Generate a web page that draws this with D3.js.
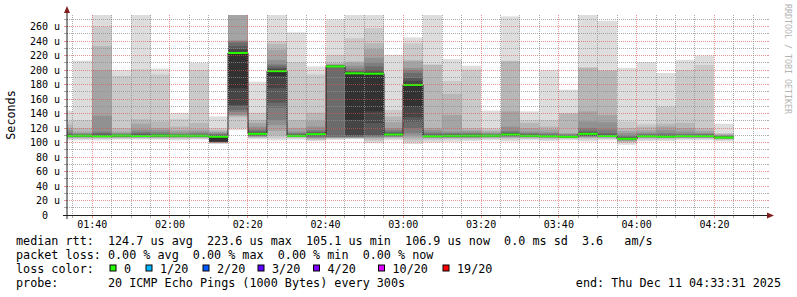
<!DOCTYPE html>
<html lang="en">
<head>
<meta charset="utf-8">
<script src="https://d3js.org/d3.v7.min.js"></script>
<title>SmokePing detail</title>
<style>
  body { margin: 0; background: #fff; }
  svg { display: block; font-family: "DejaVu Sans Mono", monospace; }
  text { white-space: pre; }
</style>
</head>
<body>
<script>
// time window: 3 hours ending at the "end:" stamp
var day = "2025-12-11";
var endClock = "04:33:31";

// end time of every 5 minute step
var barEnds = ["01:35", "01:40", "01:45", "01:50", "01:55", "02:00", "02:05", "02:10", "02:15",
  "02:20", "02:25", "02:30", "02:35", "02:40", "02:45", "02:50", "02:55", "03:00", "03:05",
  "03:10", "03:15", "03:20", "03:25", "03:30", "03:35", "03:40", "03:45", "03:50", "03:55",
  "04:00", "04:05", "04:10", "04:15", "04:20", "04:25"];

// median rtt per step (us)
var medians = [109.2, 109.4, 108.8, 109.6, 109, 109.6, 109.5, 109.4, 108, 223.6, 112, 198.5,
  109.3, 111.6, 205, 195.5, 195, 111, 179.5, 108.8, 109.3, 109.5, 109.5, 111, 109.3, 108.8,
  108, 112, 109, 105.1, 108.8, 108.2, 108.9, 108.9, 106.9];

// lost pings per step
var lossCount = [0, 0, 0, 0, 0, 0, 0, 0, 0, 0, 0, 0, 0, 0, 0, 0, 0, 0, 0, 0, 0, 0, 0, 0, 0,
  0, 0, 0, 0, 0, 0, 0, 0, 0, 0];

// the 20 sorted ping times per step (us)
var pings = [
  [103, 105, 106, 107, 107.5, 108, 108.3, 108.6, 108.8, 109, 109.2, 110, 111, 112, 114, 117, 120, 125, 130, 144],
  [103, 105, 106, 107, 107.5, 108, 108.5, 109, 109, 109.2, 109.4, 110, 110.5, 111, 112, 113, 115, 120, 131, 213],
  [103, 105, 106, 107, 107.5, 108, 108.3, 108.5, 108.6, 108.7, 108.8, 109.5, 111, 113, 115, 137, 200, 233, 260, 290],
  [104, 105.5, 106, 107, 107.5, 108, 108.5, 109, 109, 109.3, 109.6, 110, 110.5, 111, 112, 113, 115, 120, 192, 200],
  [104, 105.5, 106, 107, 107.5, 108, 108.3, 108.5, 108.7, 108.9, 109, 110, 111, 113, 115, 118, 126, 132, 201, 290],
  [104, 105.5, 106, 107, 107.5, 108, 108.5, 109, 109.2, 109.4, 109.6, 110, 111, 112, 114, 117, 120, 129, 194, 202],
  [103, 105, 106, 107, 107.5, 108, 108.5, 109, 109.2, 109.3, 109.5, 110, 110.5, 111, 112, 114, 117, 122, 132, 141],
  [104, 105.5, 106, 107, 107.5, 108, 108.5, 108.8, 109, 109.2, 109.4, 110, 110.5, 111, 113, 115, 118, 127, 200, 210],
  [98, 99, 99.5, 100, 100.3, 100.5, 100.7, 101, 101.2, 101.5, 108, 109, 110, 111, 112, 113.5, 115, 117, 120, 136],
  [117, 120, 135, 137, 138, 142, 145, 150, 152, 175, 223.6, 229, 233, 238, 240, 241, 285, 295, 310, 330],
  [104.5, 106, 107, 108, 108.5, 109, 109.5, 110, 110.5, 111, 112, 113, 114, 116, 118, 122, 127, 131, 141, 184],
  [103, 106, 110, 116, 124, 131, 148, 155, 175, 192, 198.5, 201, 203, 206, 208, 214, 228, 236, 240, 290],
  [104, 106, 107, 107.5, 108, 108.5, 108.8, 109, 109, 109.1, 109.3, 110, 111, 112, 113, 115, 120, 131, 211, 252],
  [102, 103.5, 104.5, 105.5, 106.5, 107.5, 108.5, 109.5, 110.5, 111, 111.6, 112.5, 113.5, 115, 117, 122, 130, 141, 194, 205],
  [103.7, 105, 106, 106.5, 107, 107.5, 108, 204, 204.5, 204.7, 205, 205.5, 206, 206.5, 207, 207.5, 208, 210, 221, 270],
  [104.7, 105.5, 106, 106.5, 107, 107.5, 108, 109, 110.5, 131, 195.5, 197, 198, 199, 202, 206, 210, 212, 244, 290],
  [99, 102, 104, 106, 107, 108, 109, 110.5, 127, 143, 195, 197, 200, 205, 210, 217, 229, 237, 258, 290],
  [103, 105, 106.5, 107.5, 108, 108.5, 109, 109.5, 110, 110.5, 111, 112, 113, 115, 117, 120, 128, 136, 145, 221],
  [98, 101, 104, 107, 110, 113, 120, 129, 135, 150, 179.5, 185, 189, 196, 200, 203, 212, 214, 237, 245],
  [100, 103, 105, 106.5, 107, 107.5, 108, 108.2, 108.4, 108.6, 108.8, 109.5, 110.5, 112, 114, 117, 120, 207, 208, 295],
  [101, 104, 105.5, 106.5, 107, 107.5, 108, 108.5, 108.8, 109, 109.3, 110, 111, 112, 113, 115, 138, 167, 185, 215],
  [102, 104, 105.5, 106.5, 107, 107.5, 108, 108.5, 109, 109.2, 109.5, 110, 111, 112, 113, 115, 117, 120, 200.5, 206],
  [103, 105, 106, 107, 107.5, 108, 108.5, 109, 109.2, 109.4, 109.5, 110, 110.5, 111, 112, 113, 115, 117, 120, 144],
  [101.5, 104, 106, 107, 108, 108.5, 109, 109.5, 110, 110.5, 111, 112, 113, 114, 116, 122, 143, 212, 213, 274],
  [103, 105, 106, 107, 107.5, 108, 108.5, 108.8, 109, 109.1, 109.3, 110, 111, 112, 113, 115, 120, 127, 131, 143],
  [102, 104, 105.5, 106.5, 107, 107.5, 108, 108.3, 108.5, 108.7, 108.8, 109.5, 110, 111, 112.5, 114, 118, 122, 131, 200],
  [103, 105, 106, 106.5, 107, 107.3, 107.5, 107.7, 107.8, 107.9, 108, 108.5, 109, 110, 111, 112, 113, 140, 141, 173],
  [101.5, 104, 106, 107, 108, 108.5, 109, 109.5, 110, 111, 112, 113, 114, 116, 120, 129, 143, 203, 204, 290],
  [103, 105, 106, 107, 107.5, 108, 108.3, 108.5, 108.7, 108.9, 109, 110, 111, 113, 118, 128, 138, 199, 200, 268],
  [97, 99.5, 101, 102, 103, 103.5, 104, 104.5, 104.8, 105, 105.1, 106, 107, 108, 110, 113, 116, 120, 129, 203],
  [102, 104, 105.5, 106.5, 107, 107.5, 108, 108.3, 108.5, 108.7, 108.8, 109.5, 110, 111, 112, 114, 117, 122, 126, 211],
  [102, 104, 105.5, 106.5, 107, 107.3, 107.5, 107.7, 107.8, 108, 108.2, 109, 110, 111, 113, 117, 122, 126, 150, 196],
  [103, 105, 106, 106.5, 107, 107.5, 108, 108.3, 108.5, 108.7, 108.9, 109.5, 110, 111, 112, 115, 120, 127, 200, 214],
  [103, 105, 106, 106.5, 107, 107.5, 108, 108.3, 108.5, 108.7, 108.9, 109.5, 110, 111, 112, 113, 116, 120, 207, 220],
  [101.5, 103.5, 104.5, 105, 105.5, 106, 106.3, 106.5, 106.7, 106.8, 106.9, 107.5, 108, 108.5, 109, 110, 111, 112, 113, 126]
];

var yMax = 276;
var yTicks = [0, 20, 40, 60, 80, 100, 120, 140, 160, 180, 200, 220, 240, 260];
var xTicks = ["01:40", "02:00", "02:20", "02:40", "03:00", "03:20", "03:40", "04:00", "04:20"];

var lossLevels = [0, 1, 2, 3, 4, 10, 19];
var lossLabels = ["0", "1/20", "2/20", "3/20", "4/20", "10/20", "19/20"];
var lossColors = ["#26ff00", "#00b8ff", "#0059ff", "#5e00ff", "#7e00ff", "#dd00ff", "#ff0000"];
var lossBoxX = [110, 146, 203, 258, 313.5, 378.5, 443];

var width = 797;
var height = 297;
var plotL = 67, plotR = 767, plotT = 15, plotB = 215;

var svg = d3.select("body")
  .append("svg")
  .attr("width", width)
  .attr("height", height);

svg.append("rect").attr("width", width).attr("height", height).attr("fill", "#ffffff");

var parse = d3.timeParse("%Y-%m-%d %H:%M:%S");
var endTime = parse(day + " " + endClock);
var startTime = d3.timeHour.offset(endTime, -3);
function clock(t) { return parse(day + " " + t + ":00"); }

var x = d3.scaleTime().domain([startTime, endTime]).range([plotL, plotR]);
var y = d3.scaleLinear().domain([0, yMax]).range([plotB, plotT]);

svg.append("clipPath").attr("id", "plot")
  .append("rect")
  .attr("x", plotL).attr("y", plotT)
  .attr("width", plotR - plotL).attr("height", plotB - plotT);

// smokeping shades: outermost pair lightest, median pair darkest
function smokeColor(k) {
  var v = Math.floor(190 / 10 * (10 - (k + 1))) + 50;
  return d3.rgb(v, v, v).formatHex();
}

var plot = svg.append("g").attr("clip-path", "url(#plot)");

var steps = pings.map(function(p, i) {
  var t1 = clock(barEnds[i]);
  var t0 = d3.timeMinute.offset(t1, -5);
  return { x0: Math.round(x(t0)), x1: Math.round(x(t1)), p: p, med: medians[i], loss: lossCount[i] };
});

steps.forEach(function(s) {
  for (var k = 0; k < 10; k++) {
    plot.append("rect")
      .attr("x", s.x0)
      .attr("width", s.x1 - s.x0)
      .attr("y", y(s.p[19 - k]))
      .attr("height", y(s.p[k]) - y(s.p[19 - k]))
      .attr("fill", smokeColor(k));
  }
});

// thin dark median step line
var medPts = steps.map(function(s) { return [s.x0, y(s.med)]; });
medPts.push([steps[steps.length - 1].x1, y(steps[steps.length - 1].med)]);
plot.append("path")
  .attr("d", d3.line().curve(d3.curveStepAfter)(medPts))
  .attr("fill", "none")
  .attr("stroke", "#202020")
  .attr("stroke-width", 1);

// loss coloured median band
var swidth = yMax / 200;
function lossColor(n) {
  var c = lossColors[0];
  lossLevels.forEach(function(l, i) { if (n >= l) c = lossColors[i]; });
  return c;
}
plot.selectAll(".med")
  .data(steps)
  .enter()
  .append("rect")
  .attr("x", function(d) { return d.x0; })
  .attr("width", function(d) { return d.x1 - d.x0; })
  .attr("y", function(d) { return y(d.med + swidth); })
  .attr("height", function(d) { return y(d.med - swidth) - y(d.med + swidth); })
  .attr("fill", function(d) { return lossColor(d.loss); });

// grid on top of the graph
var minorCol = "rgba(143,143,143,0.75)";
var majorCol = "rgba(222,79,79,0.6)";
var grid = svg.append("g");

d3.range(10, yMax, 10).forEach(function(v) {
  var yy = Math.floor(y(v)) + 0.5;
  var col = v % 20 === 0 ? majorCol : minorCol;
  grid.append("line").attr("x1", plotL).attr("x2", plotR).attr("y1", yy).attr("y2", yy)
    .attr("stroke", col).attr("stroke-dasharray", "1,1");
  grid.append("line").attr("x1", plotL - 3).attr("x2", plotL).attr("y1", yy).attr("y2", yy).attr("stroke", col);
  grid.append("line").attr("x1", plotR).attr("x2", plotR + 2).attr("y1", yy).attr("y2", yy).attr("stroke", col);
});

var majorTimes = xTicks.map(clock);
d3.timeMinute.every(5).range(startTime, endTime).forEach(function(t) {
  var xx = Math.floor(x(t)) + 0.5;
  var isMajor = majorTimes.some(function(m) { return +m === +t; });
  var col = isMajor ? majorCol : minorCol;
  grid.append("line").attr("x1", xx).attr("x2", xx).attr("y1", plotT).attr("y2", plotB)
    .attr("stroke", col).attr("stroke-dasharray", "1,1");
  grid.append("line").attr("x1", xx).attr("x2", xx).attr("y1", plotB).attr("y2", plotB + 3).attr("stroke", col);
});

// axes with arrows
svg.append("line").attr("x1", plotL - 4).attr("x2", plotR + 4).attr("y1", plotB + 0.5).attr("y2", plotB + 0.5)
  .attr("stroke", "#1f1f1f");
svg.append("line").attr("x1", plotL).attr("x2", plotL).attr("y1", plotB + 4).attr("y2", plotT - 4)
  .attr("stroke", "#1f1f1f");
svg.append("path").attr("d", "M767,212.5L774,215.5L767,218.5Z").attr("fill", "#801f1f");
svg.append("path").attr("d", "M64,13L67,6L70,13Z").attr("fill", "#801f1f");

// tick labels
svg.append("g").selectAll("text")
  .data(yTicks)
  .enter()
  .append("text")
  .attr("xml:space", "preserve")
  .attr("x", 60)
  .attr("y", function(d) { return Math.floor(y(d)) + 4; })
  .attr("text-anchor", "end")
  .attr("font-size", "10px")
  .attr("fill", "#000")
  .text(function(d) { return d === 0 ? "0  " : d + " u"; });

svg.append("g").selectAll("text")
  .data(xTicks)
  .enter()
  .append("text")
  .attr("x", function(d) { return x(clock(d)); })
  .attr("y", 228)
  .attr("text-anchor", "middle")
  .attr("font-size", "10px")
  .attr("fill", "#000")
  .text(function(d) { return d; });

svg.append("text")
  .attr("transform", "translate(15,115) rotate(-90)")
  .attr("text-anchor", "middle")
  .attr("font-size", "11.75px")
  .text("Seconds");

svg.append("text")
  .attr("transform", "translate(785,4) rotate(90)")
  .attr("font-size", "8.3px")
  .attr("fill", "#b4b4b4")
  .text("RRDTOOL / TOBI OETIKER");

// legend
var f1 = d3.format(".1f");
var legendRows = [
  "median rtt:  " + f1(d3.mean(medians)) + " us avg  " + f1(d3.max(medians)) + " us max  " +
    f1(d3.min(medians)) + " us min  " + f1(medians[medians.length - 1]) + " us now  0.0 ms sd  3.6   am/s",
  "packet loss: 0.00 % avg  0.00 % max  0.00 % min  0.00 % now",
  "loss color:",
  "probe:       20 ICMP Echo Pings (1000 Bytes) every 300s"
];

svg.append("g").selectAll("text")
  .data(legendRows)
  .enter()
  .append("text")
  .attr("xml:space", "preserve")
  .attr("x", 16)
  .attr("y", function(d, i) { return 245 + i * 14; })
  .attr("font-size", "11.75px")
  .text(function(d) { return d; });

var lossLegend = svg.append("g").selectAll("g")
  .data(lossLabels)
  .enter()
  .append("g");

lossLegend.append("rect")
  .attr("x", function(d, i) { return lossBoxX[i]; })
  .attr("y", 265)
  .attr("width", 6)
  .attr("height", 6)
  .attr("fill", function(d, i) { return lossColors[i]; })
  .attr("stroke", "#000");

lossLegend.append("text")
  .attr("x", function(d, i) { return lossBoxX[i] + 14; })
  .attr("y", 273)
  .attr("font-size", "11.75px")
  .text(function(d) { return d; });

svg.append("text")
  .attr("x", 781)
  .attr("y", 287)
  .attr("text-anchor", "end")
  .attr("font-size", "11.75px")
  .text("end: Thu Dec 11 04:33:31 2025");
</script>
</body>
</html>
